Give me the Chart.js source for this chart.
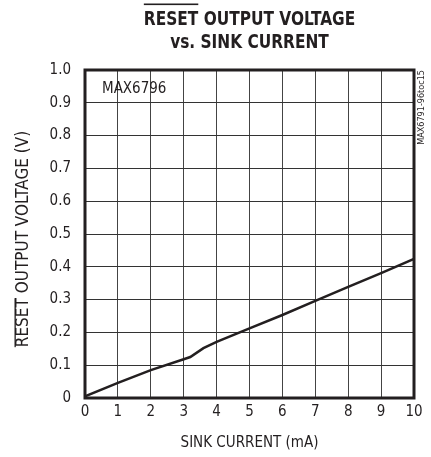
<!DOCTYPE html>
<html lang="en">
<head>
<meta charset="UTF-8">
<title>RESET output voltage vs sink current</title>
<script src="https://cdn.jsdelivr.net/npm/chart.js@4.4.1/dist/chart.umd.min.js"></script>
<style>
  html, body { margin: 0; padding: 0; background: #fff; }
  #wrap { width: 431px; height: 457px; }
</style>
</head>
<body>
<div id="wrap"><canvas id="c" width="431" height="457"></canvas></div>
<script>
    // data (MAX6796)
    const sinkCurrent = [0, 1, 2, 3, 3.2, 3.6, 4, 5, 6, 7, 8, 9, 10];
    const resetVoltage = [0.005, 0.046, 0.085, 0.118, 0.125, 0.152, 0.171, 0.212, 0.253, 0.296, 0.339, 0.381, 0.424];
    const xTicks = [0, 1, 2, 3, 4, 5, 6, 7, 8, 9, 10];
    const yTickLabels = ['0', '0.1', '0.2', '0.3', '0.4', '0.5', '0.6', '0.7', '0.8', '0.9', '1.0'];

    const titleLines = ['RESET OUTPUT VOLTAGE', 'vs. SINK CURRENT'];
    const xTitle = 'SINK CURRENT (mA)';
    const yTitle = 'RESET OUTPUT VOLTAGE (V)';
    const partLabel = 'MAX6796';
    const docCode = 'MAX6791-96toc15';

    const INK = '#231f20';
    const NARROW = "'Liberation Sans Narrow', 'DejaVu Sans Condensed', sans-serif";

    const decor = {
        id: 'decor',
        afterDraw(chart) {
            const ctx = chart.ctx;
            const a = chart.chartArea;
            const cx = (a.left + a.right) / 2;
            ctx.save();

            // frame
            ctx.strokeStyle = INK;
            ctx.lineWidth = 3;
            ctx.strokeRect(a.left, a.top, a.right - a.left, a.bottom - a.top);

            ctx.fillStyle = INK;
            ctx.textBaseline = 'middle';

            // title, squeezed a bit to look condensed
            ctx.save();
            ctx.translate(cx, 0);
            ctx.scale(0.9, 1);
            ctx.font = 'bold 19px ' + NARROW;
            ctx.textAlign = 'center';
            ctx.fillText(titleLines[0], 0, 20);
            ctx.fillText(titleLines[1], 0, 43);
            let w = ctx.measureText(titleLines[0]).width;
            let wr = ctx.measureText('RESET').width;
            ctx.fillRect(-w / 2, 3.5, wr, 1.6);
            ctx.restore();

            // x title
            ctx.textAlign = 'center';
            ctx.font = '15px ' + NARROW;
            ctx.fillText(xTitle, cx, 443);

            // y title, rotated
            ctx.save();
            ctx.translate(24, 239);
            ctx.rotate(-Math.PI / 2);
            ctx.font = '17px ' + NARROW;
            ctx.fillText(yTitle, 0, 0);
            w = ctx.measureText(yTitle).width;
            wr = ctx.measureText('RESET').width;
            ctx.fillRect(-w / 2, -9.5, wr, 1.3);
            ctx.restore();

            // part label
            ctx.textAlign = 'left';
            ctx.font = '15px ' + NARROW;
            ctx.fillText(partLabel, a.left + 17, a.top + 19);

            // doc code, vertical on the right
            ctx.save();
            ctx.translate(422, a.top);
            ctx.rotate(-Math.PI / 2);
            ctx.textAlign = 'right';
            ctx.font = '9px ' + NARROW;
            ctx.fillText(docCode, 0, 0);
            ctx.restore();

            ctx.restore();
        }
    };

    new Chart(document.getElementById('c'), {
        type: 'line',
        data: {
            datasets: [{
                data: sinkCurrent.map((x, i) => ({ x: x, y: resetVoltage[i] })),
                borderColor: INK,
                borderWidth: 2.5,
                pointRadius: 0,
                tension: 0,
                fill: false
            }]
        },
        options: {
            responsive: false,
            animation: false,
            layout: { padding: { top: 70, right: 17, left: 0, bottom: 0 } },
            plugins: {
                legend: { display: false },
                tooltip: { enabled: false }
            },
            scales: {
                x: {
                    type: 'linear',
                    min: 0,
                    max: 10,
                    afterFit: s => { s.height = 59; },
                    afterBuildTicks: s => { s.ticks = xTicks.map(v => ({ value: v })); },
                    grid: { color: '#444', lineWidth: 1, drawTicks: false },
                    border: { display: false },
                    ticks: {
                        padding: 5,
                        color: INK,
                        font: { family: NARROW, size: 15 },
                        callback: v => String(v)
                    }
                },
                y: {
                    min: 0,
                    max: 1,
                    afterFit: s => { s.width = 85; },
                    afterBuildTicks: s => { s.ticks = yTickLabels.map(t => ({ value: parseFloat(t) })); },
                    grid: { color: '#333', lineWidth: 1, drawTicks: false },
                    border: { display: false },
                    ticks: {
                        padding: 14,
                        color: INK,
                        font: { family: NARROW, size: 15 },
                        callback: (v, i) => yTickLabels[i]
                    }
                }
            }
        },
        plugins: [decor]
    });
</script>
</body>
</html>
